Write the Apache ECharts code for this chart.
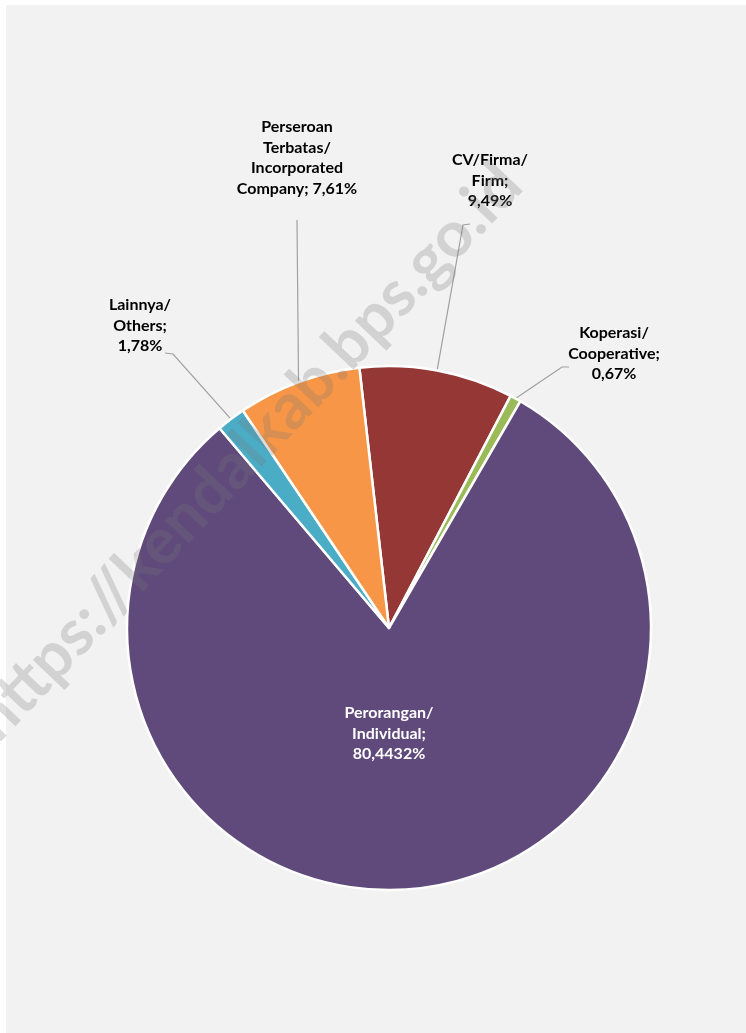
<!DOCTYPE html>
<html>
<head>
<meta charset="utf-8">
<script src="https://cdn.jsdelivr.net/npm/echarts@6/dist/echarts.min.js"></script>
<style>
html,body{margin:0;padding:0;background:#fff;}
#chart{width:746px;height:1033px;}
</style>
</head>
<body>
<div id="chart"></div>
<script>
// ---- data ----
var categories = ['CV/Firma/\nFirm', 'Koperasi/\nCooperative', 'Perorangan/\nIndividual', 'Lainnya/\nOthers', 'Perseroan\nTerbatas/\nIncorporated\nCompany'];
var shares = [9.49, 0.67, 80.4432, 1.78, 7.61];
var labelJoins = [';\n', ';\n', ';\n', ';\n', '; '];
var sliceColors = ['#953735', '#9bbb59', '#604a7b', '#4bacc6', '#f79646'];
var watermarkText = 'https://kendalkab.bps.go.id';

// ---- label layout (pixel positions of label blocks and guide bends) ----
var labelPlaces = [
  {x: 490, y: 150, bend: [463, 225], end: [470, 224]},
  {x: 614, y: 323, bend: [562, 367], end: [569, 367]},
  {x: 389, y: 703, inside: true},
  {x: 140, y: 295, bend: [173, 354], end: [165, 353]},
  {x: 297, y: 117, bend: [297, 221], end: [297, 220]}
];

var chart = echarts.init(document.getElementById('chart'), null, {renderer: 'canvas'});

var seriesData = categories.map(function (name, i) {
  var item = {name: name, value: shares[i], itemStyle: {color: sliceColors[i]}};
  if (labelPlaces[i].inside) {
    item.label = {position: 'inside', color: '#ffffff'};
    item.labelLine = {show: false};
  }
  return item;
});

var option = {
  backgroundColor: '#ffffff',
  animation: false,
  graphic: [
    {type: 'rect', z: 0, silent: true, shape: {x: 6, y: 5, width: 740, height: 1028}, style: {fill: '#f2f2f2'}},
    {type: 'text', z: 100, silent: true, x: 247, y: 452, rotation: Math.PI * 46.5 / 180,
      style: {text: watermarkText, font: 'bold 64px Lato, "Open Sans", sans-serif', fill: 'rgba(120,120,120,0.26)', align: 'center', verticalAlign: 'middle'}}
  ],
  series: [{
    type: 'pie',
    center: [389, 628],
    radius: 262,
    startAngle: 96.5,
    clockwise: true,
    avoidLabelOverlap: false,
    emphasis: {disabled: true},
    itemStyle: {borderColor: '#ffffff', borderWidth: 2.5},
    label: {
      show: true,
      position: 'outside',
      color: '#000000',
      fontFamily: 'Lato, "Open Sans", sans-serif',
      fontWeight: 'bold',
      fontSize: 16,
      lineHeight: 20.5,
      align: 'center',
      formatter: function (p) {
        return p.name + labelJoins[p.dataIndex] + String(p.value).replace('.', ',') + '%';
      }
    },
    labelLine: {show: true, length: 10, length2: 10, lineStyle: {color: '#a0a0a0', width: 1.2}},
    labelLayout: function (params) {
      var place = labelPlaces[params.dataIndex];
      var out = {x: place.x, y: place.y, align: 'center', verticalAlign: 'top'};
      if (!place.inside && params.labelLinePoints) {
        out.labelLinePoints = [params.labelLinePoints[0], place.bend, place.end];
      }
      return out;
    },
    data: seriesData
  }]
};
chart.setOption(option);
</script>
</body>
</html>
